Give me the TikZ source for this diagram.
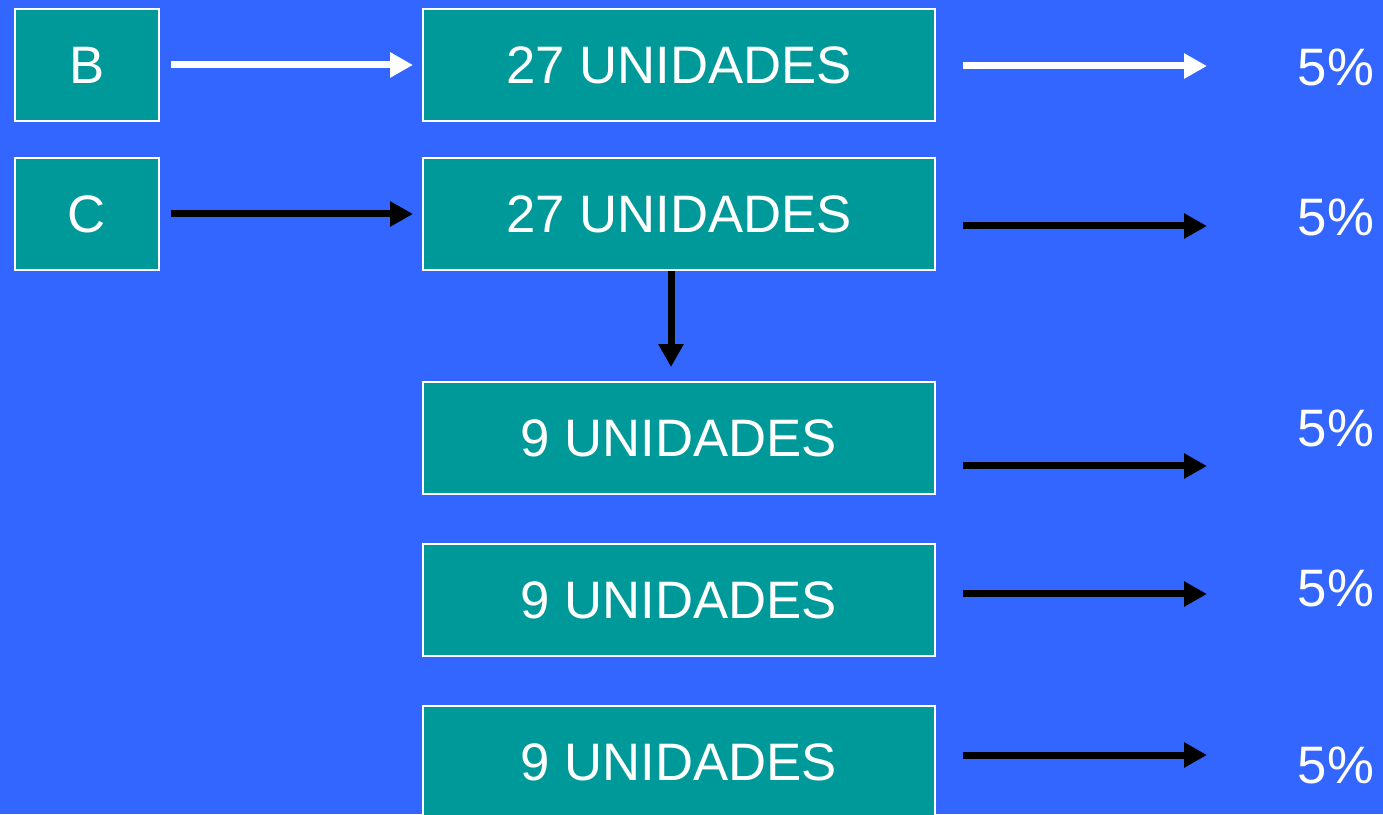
\documentclass[tikz,border=0pt]{standalone}
\usepackage{fontspec}
\setmainfont{Liberation Sans}
\usepackage{xcolor}
\definecolor{fundo}{RGB}{51,102,255}
\definecolor{verdeagua}{RGB}{0,153,153}
\usetikzlibrary{arrows.meta, positioning}

\begin{document}
\begin{tikzpicture}[
    box/.style={rectangle, draw=white, fill=verdeagua, line width=1.1pt,
                minimum width=10.24cm, minimum height=2.24cm,
                font=\fontsize{30}{36}\selectfont, text=white, text centered},
    sbox/.style={box, minimum width=2.88cm},
    arr/.style={-{Triangle[length=0.46cm,width=0.48cm]}, line width=0.14cm, black},
    warr/.style={arr, white},
    lbl/.style={font=\fontsize{30}{36}\selectfont, text=white}
  ]

  \useasboundingbox (0,0) rectangle (27.66,16.28);
  \fill[fundo] (0,0) rectangle (27.66,16.28);

  % letras
  \node[sbox] (B) at (1.74, 14.98) {B};
  \node[sbox] (C) at (1.74, 12.00) {C};

  % unidades
  \node[box] (u1) at (13.58, 14.98) {27 UNIDADES};
  \node[box] (u2) at (13.58, 12.00) {27 UNIDADES};
  \node[box] (u3) at (13.58,  7.52) {9 UNIDADES};
  \node[box] (u4) at (13.58,  4.28) {9 UNIDADES};
  \node[box] (u5) at (13.58,  1.04) {9 UNIDADES};

  % percentagens
  \node[lbl] (p1) at (26.72, 14.94) {5\%};
  \node[lbl] (p2) at (26.72, 11.94) {5\%};
  \node[lbl] (p3) at (26.72,  7.72) {5\%};
  \node[lbl] (p4) at (26.72,  4.52) {5\%};
  \node[lbl] (p5) at (26.72,  0.98) {5\%};

  % pontas das setas
  \coordinate (t1) at (24.14, 14.96);
  \coordinate (t2) at (24.14, 11.76);
  \coordinate (t3) at (24.14,  6.96);
  \coordinate (t4) at (24.14,  4.40);
  \coordinate (t5) at (24.14,  1.18);

  \draw[warr, shorten <=0.22cm, shorten >=0.18cm] (B) -- (u1);
  \draw[arr,  shorten <=0.22cm, shorten >=0.18cm] (C) -- (u2);

  \draw[warr, shorten <=0.54cm] (u1.east |- t1) -- (t1);
  \foreach \i in {2,...,5}
    \draw[arr, shorten <=0.54cm] (u\i.east |- t\i) -- (t\i);

  \draw[arr, shorten >=0.28cm] ([xshift=-0.16cm]u2.south) -- ([xshift=-0.16cm]u3.north);

\end{tikzpicture}
\end{document}
